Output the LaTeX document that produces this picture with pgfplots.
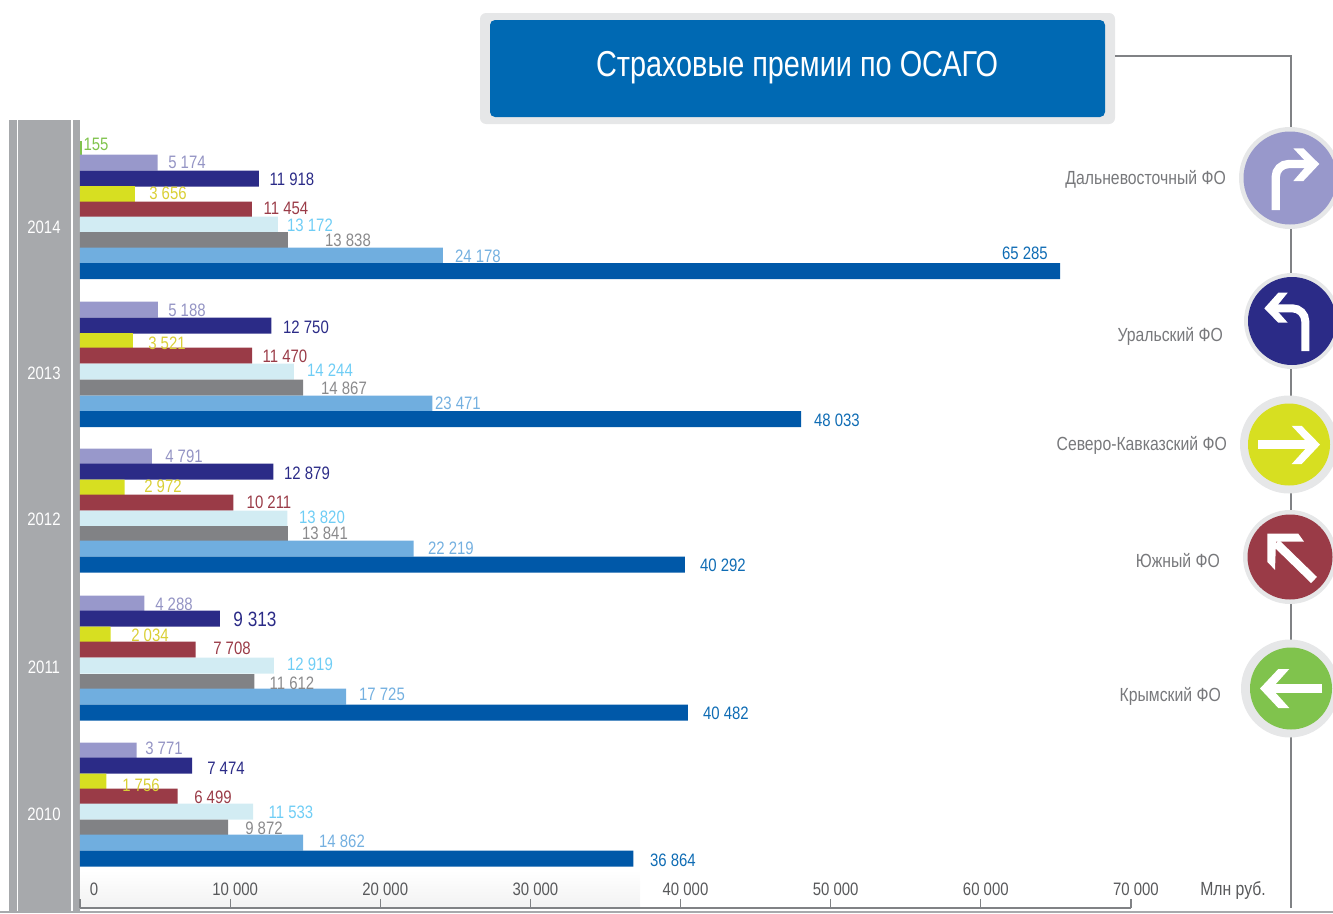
\documentclass[border=0pt]{standalone}
\usepackage{fontspec}
\setmainfont{Liberation Sans}[FakeStretch=0.83]
\usepackage{pgfplots}
\usepackage{pgfplotstable}
\pgfplotsset{compat=1.18}

\definecolor{band}{HTML}{A7A9AC}
\definecolor{boxgray}{HTML}{E6E7E8}
\definecolor{boxblue}{HTML}{0069B3}
\definecolor{linegray}{HTML}{808285}
\definecolor{txtgray}{HTML}{77787B}
\definecolor{txtdark}{HTML}{58595B}
% bars
\definecolor{bgreen}{HTML}{80C34D}
\definecolor{blilac}{HTML}{9898CB}
\definecolor{bnavy}{HTML}{2B2B87}
\definecolor{byellow}{HTML}{D7DF21}
\definecolor{bred}{HTML}{9A3B47}
\definecolor{bcyan}{HTML}{D2ECF3}
\definecolor{bgray}{HTML}{818285}
\definecolor{blight}{HTML}{70AEDF}
\definecolor{bdark}{HTML}{0058A8}
% value labels
\definecolor{tlilac}{HTML}{9494C4}
\definecolor{tyellow}{HTML}{D9CF35}
\definecolor{tcyan}{HTML}{6FCDF5}
\definecolor{tgray}{HTML}{8A8A8C}
\definecolor{tlight}{HTML}{74B0E0}
\definecolor{tdark}{HTML}{0F6CB4}

% v = value, y = bar row, lx ly = label centre (picture px), s = label scale
\pgfplotstableread{
v y lx ly s
155 148.5 96 143 1
}\crimea
\pgfplotstableread{
v y lx ly s
5174 162.5 187 161 1
5188 309.5 187 309 1
4791 456.5 184 455 1
4288 603.5 174 603 1
3771 750.5 164 747 1
}\fareast
\pgfplotstableread{
v y lx ly s
11918 178.5 292 178 1
12750 325.5 306 326 1
12879 471.5 307 472 1
9313 618.5 255 618 1.15
7474 765.5 226 767 1
}\ural
\pgfplotstableread{
v y lx ly s
3656 194 168 192 1
3521 341 167 342 1
2972 487.5 163 485 1
2034 634.5 150 634 1
1756 781.5 141 784 1
}\ncaucasus
\pgfplotstableread{
v y lx ly s
11454 209.5 286 207 1
11470 355.5 285 355 1
10211 502.5 269 501 1
7708 649.5 232 647 1
6499 796.5 213 796 1
}\south
\pgfplotstableread{
v y lx ly s
13172 224.5 310 224 1
14244 371.5 330 369 1
13820 518.5 322 516 1
12919 665.5 310 663 1
11533 811.5 291 811 1
}\cyanrow
\pgfplotstableread{
v y lx ly s
13838 240 348 239 1
14867 387.5 344 387 1
13841 534 325 532 1
11612 682 292 682 1
9872 827.5 264 827 1
}\grayrow
\pgfplotstableread{
v y lx ly s
24178 255.5 478 255 1
23471 403.5 458 402 1
22219 548.5 451 547 1
17725 696.5 382 693 1
14862 842.5 342 840 1
}\lightrow
\pgfplotstableread{
v y lx ly s
65285 271 1025 252 1
48033 419 837 419 1
40292 564.5 723 564 1
40482 712.5 726 712 1
36864 858.5 673 859 1
}\darkrow

\newcommand{\bars}[2]{\addplot[xbar, bar width=16, fill=#1, draw=none] table[x=v, y=y] {#2};}
\newcommand{\labels}[2]{\addplot[only marks, mark size=0pt, draw=none,
    visualization depends on={\thisrow{s} \as \lscale},
    point meta=\thisrow{v},
    nodes near coords,
    nodes near coords style={text=#1, anchor=center, scale=\lscale, yshift=-1pt,
      /pgf/number format/.cd, fixed, precision=0, 1000 sep={\ }, assume math mode=true},
  ] table[x expr=(\thisrow{lx}-80)/0.015014, y=ly] {#2};}

\begin{document}
\fontsize{18}{20}\selectfont
\begin{tikzpicture}
\path[use as bounding box] (0pt,-913pt) rectangle (1333pt,0pt);

\begin{scope}[x=1pt, y=-1pt]
  % left band and bottom stripe
  \fill[band] (9,120) rectangle (80,913);
  \fill[white] (17,120) rectangle (18.3,913);
  \fill[white] (71.2,120) rectangle (72.5,913);
  \fill[band] (0,910.5) rectangle (1333,913);
  \shade[top color=white, bottom color=black!5] (80,870) rectangle (640,907);

  % title box
  \fill[boxgray, rounded corners=6pt] (480,13) rectangle (1115,124);
  \fill[boxblue, rounded corners=5pt] (490,20) rectangle (1105,117);
  \node[white, font=\fontsize{36}{40}\selectfont, xscale=0.965] at (797,68) {Страховые премии по ОСАГО};

  % leader line
  \draw[linegray, line width=1.5pt] (1115,56) -- (1291,56) -- (1291,908);
\end{scope}

\begin{axis}[
    at={(80pt,-908pt)}, anchor=south west,
    scale only axis, width=1051pt, height=788pt,
    xmin=0, xmax=70000, ymin=120, ymax=908,
    y dir=reverse,
    axis x line=bottom, axis y line=left,
    axis line style={-},
    x axis line style={linegray, line width=2pt},
    y axis line style={draw=none},
    clip=false,
    scaled x ticks=false,
    tick align=inside,
    major tick length=9pt,
    x tick style={linegray, line width=1.2pt},
    y tick style={draw=none},
    xtick={0,10000,20000,30000,40000,50000,60000,70000},
    xticklabels={\hspace*{18pt}0,10 000,20 000,30 000,40 000,50 000,60 000,70 000},
    xticklabel style={text=txtdark, anchor=center, yshift=19pt, xshift=5pt},
    ytick={227,373,519,667,814},
    yticklabels={2014,2013,2012,2011,2010},
    yticklabel style={text=white, anchor=center, xshift=-36pt},
  ]
  \bars{bgreen}{\crimea}
  \bars{blilac}{\fareast}
  \bars{bnavy}{\ural}
  \bars{byellow}{\ncaucasus}
  \bars{bred}{\south}
  \bars{bcyan}{\cyanrow}
  \bars{bgray}{\grayrow}
  \bars{blight}{\lightrow}
  \bars{bdark}{\darkrow}

  \labels{bgreen}{\crimea}
  \labels{tlilac}{\fareast}
  \labels{bnavy}{\ural}
  \labels{tyellow}{\ncaucasus}
  \labels{bred}{\south}
  \labels{tcyan}{\cyanrow}
  \labels{tgray}{\grayrow}
  \labels{tlight}{\lightrow}
  \labels{tdark}{\darkrow}
\end{axis}

\begin{scope}[x=1pt, y=-1pt]
  % unit circles with arrows
  \fill[boxgray] (1290,178) circle (51pt);
  \fill[blilac] (1290,178) circle (46.5pt);
  \draw[white, line width=8.3pt, rounded corners=13pt] (1275.7,210) -- (1275.7,164) -- (1312,164);
  \fill[white] (1293.3,148.3) -- (1303.3,148.3) -- (1319.3,164) -- (1303.3,181) -- (1293.3,181) -- (1308,164) -- cycle;

  \fill[boxgray] (1292,321) circle (48pt);
  \fill[bnavy] (1292,321) circle (44pt);
  \draw[white, line width=8pt, rounded corners=13pt] (1305.3,351) -- (1305.3,308.3) -- (1270,308.3);
  \fill[white] (1287.7,292.7) -- (1278.3,292.7) -- (1264.3,308.3) -- (1278.3,322.7) -- (1287.7,322.7) -- (1275,308.3) -- cycle;

  \fill[boxgray] (1289,444.5) circle (49pt);
  \fill[byellow] (1289,444.5) circle (41pt);
  \draw[white, line width=9pt] (1258.3,444.6) -- (1312,444.6);
  \fill[white] (1291.7,425.9) -- (1301.7,425.9) -- (1320,444.6) -- (1301.7,464) -- (1291.7,464) -- (1309.3,444.6) -- cycle;

  \fill[boxgray] (1290,557) circle (47pt);
  \fill[bred] (1290,557) circle (42.5pt);
  \draw[white, line width=8.5pt] (1276,543) -- (1314,580);
  \fill[white] (1267.3,533.7) -- (1298.3,533.7) -- (1304,541.6) -- (1276,541.6) -- (1275,569.8) -- (1267.3,562) -- cycle;

  \fill[boxgray] (1290,688.5) circle (49pt);
  \fill[bgreen] (1291,688.5) circle (41pt);
  \draw[white, line width=9pt] (1322.3,688.5) -- (1270,688.5);
  \fill[white] (1278.3,669) -- (1289.3,669) -- (1271.7,688.5) -- (1289.3,708) -- (1278.3,708) -- (1260,688.5) -- cycle;

  % district names
  \begin{scope}[every node/.style={anchor=east, inner sep=0pt, font=\fontsize{19}{21}\selectfont}]
  \node[txtgray] at (1226,179) {Дальневосточный ФО};
  \node[txtgray] at (1223,336) {Уральский ФО};
  \node[txtgray] at (1227,445) {Северо-Кавказский ФО};
  \node[txtgray] at (1220,561) {Южный ФО};
  \node[txtgray] at (1221,696) {Крымский ФО};
  \node[txtdark] at (1266,890) {Млн руб.};
  \end{scope}
\end{scope}
\end{tikzpicture}
\end{document}
